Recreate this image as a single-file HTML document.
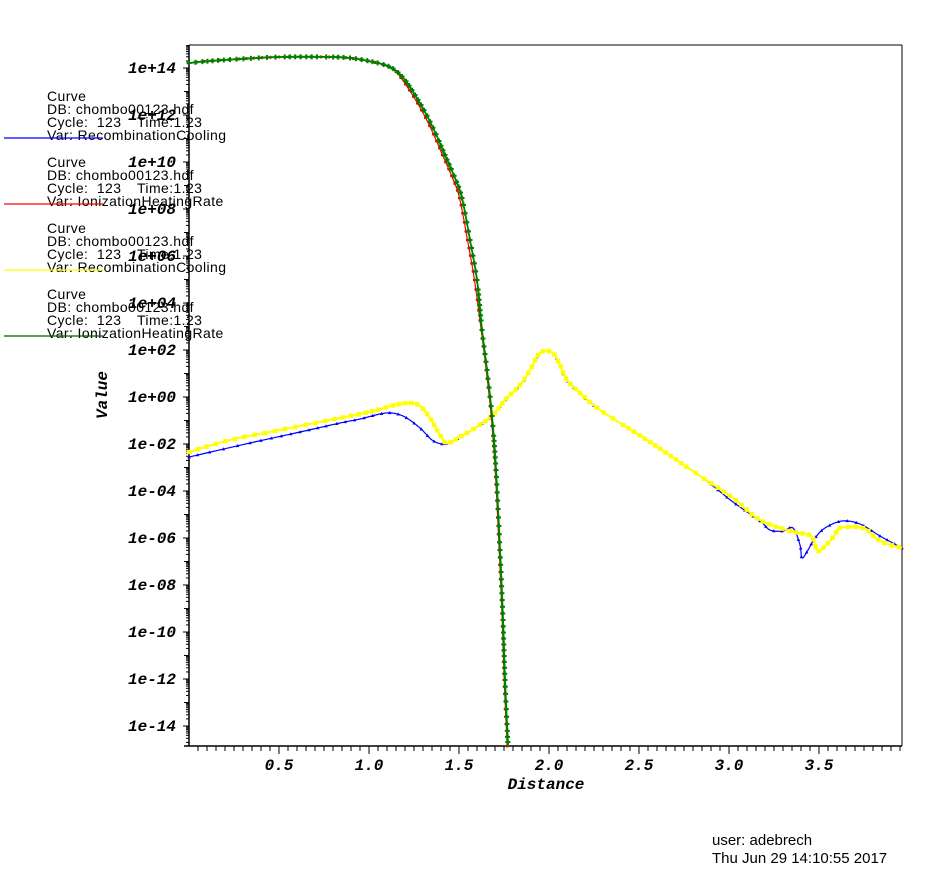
<!DOCTYPE html>
<html><head><meta charset="utf-8"><style>
body{margin:0;background:#fff;width:950px;height:878px;overflow:hidden}
svg{position:absolute;left:0;top:0}
.lg{font-family:"Liberation Sans",sans-serif;font-size:14px;fill:#000;white-space:pre;letter-spacing:0.4px}
.ax{font-family:"Liberation Mono","DejaVu Sans Mono",monospace;font-weight:bold;font-style:italic;font-size:16px;fill:#000}
</style></head><body>
<svg id="s" width="950" height="878" xmlns="http://www.w3.org/2000/svg"></svg>
<script>
const S=document.getElementById('s');const NS='http://www.w3.org/2000/svg';
function el(t,a,txt){const e=document.createElementNS(NS,t);for(const k in a)e.setAttribute(k,a[k]);if(txt!==undefined)e.textContent=txt;S.appendChild(e);return e;}
const L=189,R=902,T=45,B=746;
const names=["RecombinationCooling","IonizationHeatingRate","RecombinationCooling","IonizationHeatingRate"];
const cols=["#0000ff","#ff0000","#ffff00","#006400"];
for(let i=0;i<4;i++){const y0=101+i*66;
el('text',{x:47,y:y0,class:'lg'},'Curve');
el('text',{x:47,y:y0+13,class:'lg'},'DB: chombo00123.hdf');
el('text',{x:47,y:y0+26,class:'lg'},'Cycle:  123');
el('text',{x:137,y:y0+26,class:'lg'},'Time:1.23');
el('text',{x:47,y:y0+39,class:'lg'},'Var: '+names[i]);
el('line',{x1:4,x2:103,y1:y0+37,y2:y0+37,stroke:cols[i],'stroke-width':1.3});}
el('line',{x1:L,x2:R,y1:T,y2:T,stroke:'#000'});
el('line',{x1:R,x2:R,y1:T,y2:B,stroke:'#000'});
el('line',{x1:L,x2:L,y1:T,y2:B,stroke:'#000','stroke-width':1.5});
el('line',{x1:L-5,x2:R,y1:B,y2:B,stroke:'#000','stroke-width':1.5});
const yp=l=>68+(14-l)*23.5;
for(let d=-15;d<=15;d++){for(let m=1;m<10;m++){const l=d+Math.log10(m);const y=yp(l);if(y<T||y>B)continue;
const len=m==1?(d%2==0?6:5):3;el('line',{x1:L-len,x2:L,y1:y,y2:y,stroke:'#000'});}}
for(let d=14;d>=-14;d-=2){el('text',{x:176,y:yp(d)+5,class:'ax','text-anchor':'end'},'1e'+(d>=0?'+':'-')+String(Math.abs(d)).padStart(2,'0'));}
const xp=v=>189+180*v;
for(let i=1;i<80;i++){const v=i*0.05,x=xp(v);if(x>R)break;const maj=i%10==0;el('line',{x1:x,x2:x,y1:B,y2:B+(maj?8:5),stroke:'#000'});}
['0.5','1.0','1.5','2.0','2.5','3.0','3.5'].forEach(t=>el('text',{x:xp(+t),y:770,class:'ax','text-anchor':'middle'},t));
el('text',{x:546,y:789,class:'ax','text-anchor':'middle'},'Distance');
el('text',{x:0,y:0,class:'ax','text-anchor':'middle',transform:'translate(107,395) rotate(-90)'},'Value');
el('text',{x:712,y:845,class:'lg',style:'font-size:15px;letter-spacing:0'},'user: adebrech');
el('text',{x:712,y:863,class:'lg',style:'font-size:15px;letter-spacing:0'},'Thu Jun 29 14:10:55 2017');
function cr(p){const o=[];for(let i=0;i<p.length-1;i++){const p0=p[Math.max(0,i-1)],p1=p[i],p2=p[i+1],p3=p[Math.min(p.length-1,i+2)];
for(let t=0;t<1;t+=0.1){const t2=t*t,t3=t2*t;const f=(a,b,c,d)=>0.5*((2*b)+(-a+c)*t+(2*a-5*b+4*c-d)*t2+(-a+3*b-3*c+d)*t3);o.push([f(p0[0],p1[0],p2[0],p3[0]),f(p0[1],p1[1],p2[1],p3[1])]);}}o.push(p[p.length-1]);return o;}
function draw(p,col,mk,step,sz,w){const q=cr(p);el('polyline',{points:q.map(a=>a.join(',')).join(' '),fill:'none',stroke:col,'stroke-width':w||1.2});
let acc=0;for(let i=0;i<q.length;i++){if(i>0)acc+=Math.hypot(q[i][0]-q[i-1][0],q[i][1]-q[i-1][1]);
if(i==0||acc>=step){acc=0;const [x,y]=q[i];
if(mk=='sq')el('rect',{x:x-sz/2,y:y-sz/2,width:sz,height:sz,fill:col});
else if(mk=='tri')el('polygon',{points:`${x},${y-sz} ${x-sz},${y+sz*0.7} ${x+sz},${y+sz*0.7}`,fill:col});
else if(mk=='plus'){el('rect',{x:x-sz/2,y:y-1,width:sz,height:2,fill:col});el('rect',{x:x-1,y:y-sz/2,width:2,height:sz,fill:col});}}}}
const G=[[189,63],[210,61],[240,59],[280,57],[330,57],[350,58],[369,61],[385,65],[395,70],[405,80],[415,95],[425,112],[435,132],[445,155],[455,178],[462,198],[470,240],[477,280],[482,330],[487,370],[492,416],[496,470],[500,550],[503,620],[505,680],[508,746]];
const Rd=G.map(([x,y])=>[x-((x>395&&x<480)?2.5:0.8),y]);
const Y=[[189,452],[230,440],[280,430],[330,420],[369,412],[395,405],[410,403],[420,406],[430,418],[440,435],[447,443],[460,437],[475,428],[492,416],[505,400],[520,385],[530,370],[538,355],[545,351],[553,353],[560,365],[567,380],[580,393],[600,410],[650,442],[700,476],[733,498],[760,520],[790,531],[805,534],[812,537],[818,551],[826,545],[835,535],[840,528],[863,528],[880,541],[902,548]];
const Bl=[[189,457],[250,443],[300,432],[340,423],[360,419],[380,414],[392,413],[405,417],[420,428],[432,440],[442,444],[450,443],[460,437],[475,428],[492,416],[505,400],[520,385],[530,370],[538,355],[545,351],[553,353],[560,365],[567,380],[580,393],[600,410],[650,442],[700,476],[733,502],[760,521],[770,530],[783,531],[793,528],[800,545],[802,558],[808,550],[815,538],[825,528],[842,521],[860,524],[880,536],[902,548]];
draw(Bl,'#0000ff','tri',8,1.8);
draw(Y,'#ffff00','sq',6,4.5,2);
draw(Rd,'#ff0000','plus',7,3);
draw(G,'#008000','plus',5,5,1.8);
</script>
</body></html>
